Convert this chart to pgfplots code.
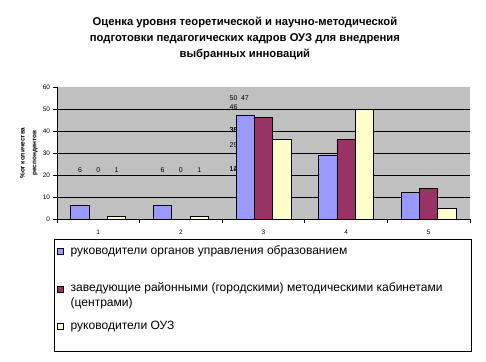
\documentclass[border=0pt]{standalone}
\usepackage{pgfplots}
\pgfplotsset{compat=1.18}
\usepackage{fontspec}
\setmainfont{Liberation Sans}
\definecolor{cblue}{HTML}{9999FF}
\definecolor{cmaroon}{HTML}{993366}
\definecolor{cyellow}{HTML}{FFFFCC}
\definecolor{cgray}{HTML}{C0C0C0}
\begin{document}
\begin{tikzpicture}
\useasboundingbox (-57bp,-143bp) rectangle (429bp,219bp);
\begin{axis}[
  at={(0,0)}, anchor=south west,
  scale only axis, width=413bp, height=132bp,
  xmin=0.5, xmax=5.5, ymin=0, ymax=60,
  enlarge x limits=false,
  ybar=0pt, bar width=18.3bp,
  axis lines*=left,
  axis line style={black, line width=0.8bp},
  axis background/.style={fill=cgray},
  xtick={1,2,3,4,5},
  minor xtick={0.5,1.5,2.5,3.5,4.5,5.5},
  major x tick style={draw=none},
  minor x tick style={draw=black, line width=0.7bp},
  minor tick length=3.5bp,
  major tick length=3.5bp,
  tick align=outside,
  ytick={0,10,20,30,40,50},
  extra y ticks={60},
  extra y tick style={grid=none},
  ymajorgrids,
  major grid style={black, line width=0.7bp},
  y tick style={black, line width=0.7bp},
  tick label style={font=\fontsize{6.5}{7}\selectfont},
  xticklabel style={yshift=-4bp},
  /pgf/number format/assume math mode=true,
  ylabel={\%от количества\\респондентов},
  ylabel style={align=center, font=\bfseries\fontsize{6.5}{12}\selectfont, at={(axis description cs:-0.068,0.5)}, anchor=center},
  title={Оценка уровня теоретической и научно-методической\\подготовки педагогических кадров ОУЗ  для внедрения\\выбранных инноваций},
  title style={align=center, font=\bfseries\fontsize{11.3}{16}\selectfont, at={(axis description cs:0.455,1.485)}, anchor=north, inner sep=0pt},
  legend image code/.code={\draw[#1, line width=0.6bp] (0bp,0bp) rectangle (6bp,6bp);},
  legend style={at={(axis description cs:-0.0065,-0.1515)}, anchor=north west, draw=black, line width=1bp,
    inner xsep=1.7bp, inner ysep=0pt, cells={anchor=base west},
    nodes={inner sep=0pt, text height=15bp, text depth=22.3bp},
    column sep=7.5bp, row sep=0pt, font=\fontsize{12.1}{14.5}\selectfont},
]
\addplot[fill=cblue, draw=black, line width=0.7bp] coordinates {(1,6) (2,6) (3,47) (4,29) (5,12)};
\addplot[fill=cmaroon, draw=black, line width=0.7bp] coordinates {(1,0) (2,0) (3,46) (4,36) (5,14)};
\addplot[fill=cyellow, draw=black, line width=0.7bp] coordinates {(1,1) (2,1) (3,36) (4,50) (5,5)};
\addlegendentry{\parbox[t]{399bp}{руководители органов управления образованием}}
\addlegendentry{\parbox[t]{399bp}{заведующие районными (городскими) методическими кабинетами\\(центрами)}}
\addlegendentry{\parbox[t]{399bp}{руководители ОУЗ}}
\begin{scope}[every node/.style={font=\fontsize{7}{8}\selectfont, inner sep=0pt}]
\node at (axis cs:0.778,22.3) {6};
\node at (axis cs:1,22.3) {0};
\node at (axis cs:1.222,22.3) {1};
\node at (axis cs:1.778,22.3) {6};
\node at (axis cs:2,22.3) {0};
\node at (axis cs:2.222,22.3) {1};
\node at (axis cs:2.637,54.8) {50};
\node at (axis cs:2.776,54.8) {47};
\node at (axis cs:2.637,51) {46};
\node at (axis cs:2.637,40.6) {35};
\node at (axis cs:2.637,40.6) {36};
\node at (axis cs:2.637,33.6) {29};
\node at (axis cs:2.637,22.6) {12};
\node at (axis cs:2.637,22.6) {14};
\end{scope}
\end{axis}
\end{tikzpicture}
\end{document}
